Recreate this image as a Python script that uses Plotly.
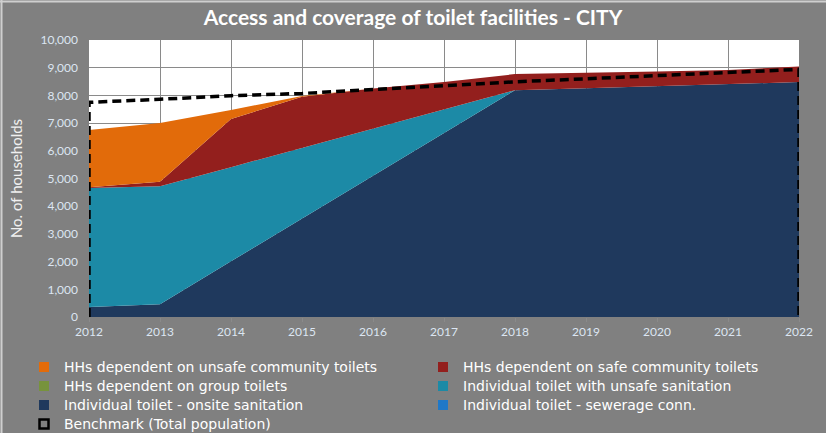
import plotly.graph_objects as go

years = [2012, 2013, 2014, 2015, 2016, 2017, 2018, 2019, 2020, 2021, 2022]

sewerage = [0, 0, 0, 0, 0, 0, 0, 0, 0, 0, 0]
onsite = [360, 460, 2010, 3550, 5100, 6640, 8190, 8260, 8330, 8400, 8480]
unsafe_individual = [4300, 4260, 3400, 2560, 1700, 860, 0, 0, 0, 0, 0]
group_toilets = [0, 0, 0, 0, 0, 0, 0, 0, 0, 0, 0]
safe_community = [20, 160, 1740, 1840, 1450, 980, 580, 550, 530, 520, 560]
unsafe_community = [2070, 2120, 320, 30, 0, 0, 0, 0, 0, 0, 0]
benchmark = [7750, 7860, 7990, 8070, 8210, 8370, 8490, 8600, 8720, 8830, 8940]

names = {
    "unsafe_community": "HHs dependent on unsafe community toilets",
    "safe_community": "HHs dependent on safe community toilets",
    "group": "HHs dependent on group toilets",
    "unsafe_individual": "Individual toilet with unsafe sanitation",
    "onsite": "Individual toilet - onsite sanitation",
    "sewerage": "Individual toilet - sewerage conn.",
    "benchmark": "Benchmark (Total population)",
}
colors = {
    "unsafe_community": "#E26B0A",
    "safe_community": "#931F1D",
    "group": "#77933C",
    "unsafe_individual": "#1C8AA6",
    "onsite": "#1F395D",
    "sewerage": "#1F78C8",
}

fig = go.Figure()

# stacked areas, bottom to top
stack = [
    ("sewerage", sewerage),
    ("onsite", onsite),
    ("unsafe_individual", unsafe_individual),
    ("group", group_toilets),
    ("safe_community", safe_community),
    ("unsafe_community", unsafe_community),
]
for key, vals in stack:
    fig.add_trace(go.Scatter(
        x=years, y=vals, stackgroup="one", mode="lines",
        line=dict(width=0, color=colors[key]), fillcolor=colors[key],
        name=names[key], showlegend=False, hoverinfo="x+y+name",
    ))

# benchmark outline (area outline with vertical edges)
fig.add_trace(go.Scatter(
    x=[years[0]] + years + [years[-1]],
    y=[0] + benchmark + [0],
    mode="lines", line=dict(color="black", width=3.5, dash="9px,5px"),
    name=names["benchmark"], showlegend=False,
))


def leg(txt):
    return '<span style="font-size:14px">' + txt + '</span>'


# legend entries (square markers) in the reference order
legend_order = ["unsafe_community", "safe_community", "group",
                "unsafe_individual", "onsite", "sewerage"]
for key in legend_order:
    fig.add_trace(go.Scatter(
        x=[None], y=[None], mode="markers",
        marker=dict(symbol="square", size=10, color=colors[key]),
        name=leg(names[key]), showlegend=True,
    ))
fig.add_trace(go.Scatter(
    x=[None], y=[None], mode="markers",
    marker=dict(symbol="square-open", size=9, color="black", line=dict(width=2.5)),
    name=leg(names["benchmark"]), showlegend=True,
))

L, R, T, B = 89, 27, 40, 116
W, H = 826, 433
pw, ph = W - L - R, H - T - B

fig.update_layout(
    width=W, height=H,
    margin=dict(l=L, r=R, t=T, b=B, autoexpand=False),
    paper_bgcolor="#808080", plot_bgcolor="white",
    title=dict(text="<b>Access and coverage of toilet facilities - CITY</b>",
               x=0.5, xanchor="center", y=1 - 18 / H, yanchor="middle",
               font=dict(family="Lato", size=21, color="white")),
    showlegend=True,
    legend=dict(
        orientation="h", x=(24 - L) / pw, xanchor="left",
        y=(317 - 352.5) / ph, yanchor="top",
        font=dict(family="DejaVu Sans", size=12, color="white"),
        entrywidth=354, bgcolor="rgba(0,0,0,0)", traceorder="normal",
    ),
    xaxis=dict(
        range=[years[0], years[-1]], tickmode="array", tickvals=years,
        ticktext=[str(y) for y in years],
        showgrid=True, gridcolor="#8a8a8a", gridwidth=1,
        ticks="outside", ticklen=4, tickcolor="#8a8a8a",
        tickfont=dict(family="Lato", size=12, color="#dce6f2"),
        zeroline=False, showline=False, fixedrange=True,
    ),
    yaxis=dict(
        range=[0, 10000], dtick=1000, tickformat=",d",
        showgrid=True, gridcolor="#8a8a8a", gridwidth=1,
        ticks="", ticklabelstandoff=10,
        tickfont=dict(family="Lato", size=12, color="#dce6f2"),
        title=dict(text="No. of households", standoff=14,
                   font=dict(family="Lato", size=15, color="#f0f0f0")),
        zeroline=False, showline=False, fixedrange=True,
    ),
)
# light chart-area border on top and left edges
fig.add_shape(type="line", xref="paper", yref="paper",
              x0=-L / pw, x1=(W - L) / pw,
              y0=(ph + T - 1.5) / ph, y1=(ph + T - 1.5) / ph,
              line=dict(color="#cfcfcf", width=2))
fig.add_shape(type="line", xref="paper", yref="paper",
              x0=(1.5 - L) / pw, x1=(1.5 - L) / pw,
              y0=-B / ph, y1=(ph + T) / ph,
              line=dict(color="#cfcfcf", width=2))

fig.write_html("out.html")
